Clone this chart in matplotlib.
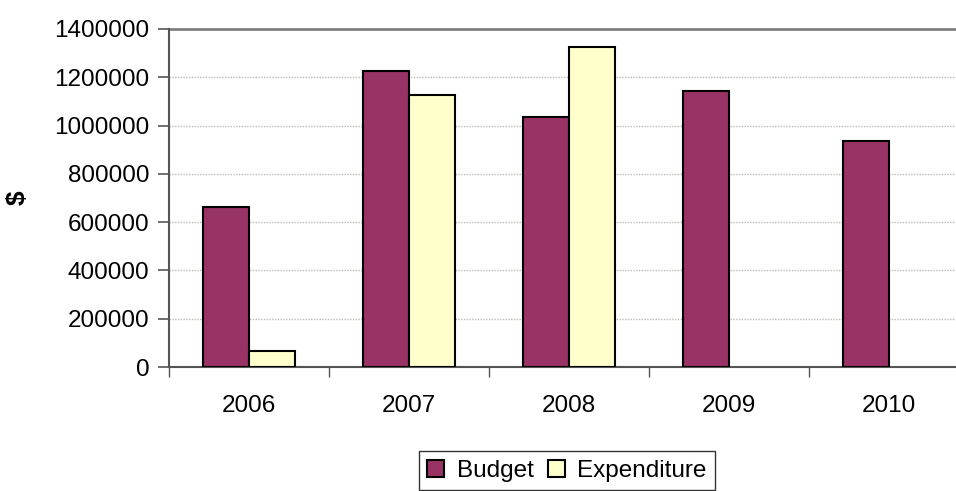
import matplotlib
import numpy as np
from matplotlib import pyplot as plt

matplotlib.use('Agg')

years = ['2006', '2007', '2008', '2009', '2010']
budget = [662000, 1225000, 1036000, 1144000, 937000]
expenditure = [66000, 1126000, 1326000, 0, 0]

plt.rcParams['font.family'] = ['Liberation Sans', 'DejaVu Sans']
plt.rcParams['font.size'] = 17.5

W, H = 956, 491
fig = plt.figure(figsize=(W / 100, H / 100), dpi=100)
# 绘图区域 (像素换算)
left, right, top, bottom = 169, 969, 29, 367
ax = fig.add_axes([left / W, 1 - bottom / H, (right - left) / W, (bottom - top) / H])

x = np.arange(len(years))
w = 0.2875
ax.bar(x - w / 2, budget, w, color='#993366', edgecolor='black', lw=1.5, label='Budget', zorder=3)
exp_x = [xi for xi, v in zip(x, expenditure) if v > 0]
exp_v = [v for v in expenditure if v > 0]
ax.bar(np.array(exp_x) + w / 2, exp_v, w, color='#FFFFCC', edgecolor='black', lw=1.5,
       label='Expenditure', zorder=3)

ax.set_xlim(-0.5, len(years) - 0.5)
ax.set_ylim(0, 1400000)
ax.set_yticks(np.arange(0, 1400001, 200000))
ax.set_yticklabels([str(v) for v in range(0, 1400001, 200000)])
ax.set_xticks(x)
ax.set_xticklabels(years)
ax.set_xticks(np.arange(-0.5, len(years), 1), minor=True)
ax.tick_params(axis='x', which='major', length=0, pad=20)
ax.tick_params(axis='x', which='minor', length=7, width=1, color='#555555', direction='out')
ax.tick_params(axis='y', length=8, width=1.2, color='#555555', direction='out', pad=6)

# 网格线
for v in range(200000, 1400000, 200000):
    ax.axhline(v, color='#bbbbbb', lw=1, ls=(0, (1, 1)), zorder=1)
ax.axhline(1400000, color='#808080', lw=2, zorder=1, clip_on=False)

for s in ['top', 'right']:
    ax.spines[s].set_visible(False)
ax.spines['left'].set_color('#555555')
ax.spines['left'].set_linewidth(1.5)
ax.spines['bottom'].set_color('#555555')
ax.spines['bottom'].set_linewidth(1.5)

fig.text(18 / W, 1 - 198 / H, '$', rotation=90, fontsize=19, fontweight='bold',
         ha='center', va='center')

leg = fig.legend(loc='upper center', bbox_to_anchor=(567 / W, 1 - 451 / H), ncol=2,
                 frameon=True, fancybox=False, edgecolor='black', handlelength=0.7,
                 handleheight=0.7, handletextpad=0.5, columnspacing=0.6,
                 borderpad=0.35, borderaxespad=0)
leg.get_frame().set_linewidth(1)

fig.savefig('out.png', dpi=100)
